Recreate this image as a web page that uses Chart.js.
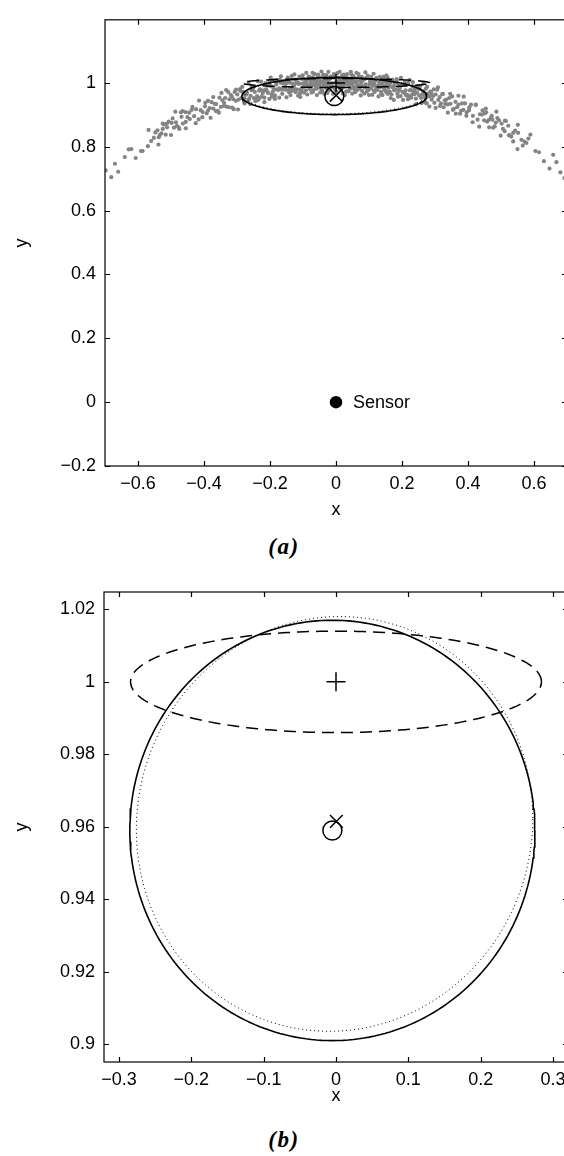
<!DOCTYPE html>
<html>
<head>
<meta charset="utf-8">
<script src="https://cdn.jsdelivr.net/npm/chart.js@4.4.0/dist/chart.umd.min.js"></script>
<style>
  body { margin: 0; width: 564px; height: 1156px; overflow: hidden; background: #fff; position: relative; }
  canvas { position: absolute; left: 0; }
  #plotA { top: 0; }
  #plotB { top: 560px; }
  .caption { position: absolute; left: 234px; width: 100px; text-align: center;
             font: bold italic 23px "Liberation Serif", "Times New Roman", serif; line-height: 26px; letter-spacing: 1.5px; }
</style>
</head>
<body>
<canvas id="plotA" width="600" height="530"></canvas>
<div class="caption" style="top:534px">(a)</div>
<canvas id="plotB" width="600" height="560"></canvas>
<div class="caption" style="top:1127px">(b)</div>
<script>
// particle cloud [x, y]
const particles = [
  [0.002,1.004],[0.005,0.989],[0.007,1.017],[0.009,0.998],[0.011,1.008],[0.013,0.981],[0.014,1.001],[0.016,1.013],[0.018,0.993],[0.019,1.024],
  [0.021,0.986],[0.023,1.000],[0.025,1.009],[0.027,0.995],[0.029,1.019],[0.031,0.974],[0.033,1.005],[0.035,0.999],[0.037,1.014],[0.039,0.990],
  [0.041,1.002],[0.043,0.982],[0.046,1.010],[0.047,1.026],[0.049,0.995],[0.052,1.006],[0.053,0.987],[0.055,1.017],[0.057,0.978],[0.059,1.001],
  [0.061,1.003],[0.063,0.990],[0.064,1.012],[0.066,0.995],[0.069,1.020],[0.071,0.983],[0.072,1.007],[0.075,0.992],[0.077,1.001],[0.079,0.975],
  [0.081,1.008],[0.083,0.989],[0.086,1.012],[0.088,0.986],[0.090,0.996],[0.092,1.015],[0.095,0.983],[0.097,1.021],[0.099,0.978],
  [0.101,0.996],[0.104,0.998],[0.106,0.983],[0.108,1.011],[0.111,0.992],[0.113,1.002],[0.115,0.975],[0.117,0.995],[0.119,1.007],
  [0.121,0.985],[0.123,1.016],[0.126,0.978],[0.128,0.992],[0.131,1.002],[0.133,0.987],[0.135,1.012],[0.137,0.966],[0.139,0.998],
  [0.142,0.988],[0.144,1.004],[0.147,0.980],[0.149,0.992],[0.152,0.972],[0.154,1.000],[0.157,1.016],[0.159,0.985],
  [0.161,0.992],[0.163,0.973],[0.166,1.003],[0.168,0.964],[0.171,0.987],[0.174,0.990],[0.176,0.977],[0.179,0.999],
  [0.181,0.979],[0.184,1.004],[0.186,0.967],[0.189,0.991],[0.191,0.976],[0.194,0.985],[0.196,0.959],[0.199,0.993],
  [0.202,0.972],[0.205,0.994],[0.208,0.968],[0.211,0.977],[0.214,0.996],[0.216,0.963],[0.219,1.001],
  [0.221,0.957],[0.224,0.977],[0.227,0.978],[0.229,0.962],[0.232,0.990],[0.235,0.970],[0.238,0.980],
  [0.242,0.951],[0.245,0.970],[0.249,0.982],[0.252,0.961],[0.255,0.991],[0.258,0.953],
  [0.262,0.965],[0.265,0.974],[0.269,0.958],[0.272,0.982],[0.275,0.936],[0.278,0.967],
  [0.283,0.958],[0.286,0.973],[0.290,0.948],[0.294,0.959],[0.298,0.938],
  [0.302,0.964],[0.306,0.979],[0.310,0.947],[0.314,0.956],[0.318,0.936],
  [0.322,0.965],[0.326,0.924],[0.330,0.946],[0.334,0.948],[0.338,0.933],
  [0.343,0.953],[0.347,0.935],[0.352,0.958],[0.357,0.919],
  [0.362,0.941],[0.367,0.924],[0.371,0.932],[0.376,0.904],
  [0.382,0.936],[0.386,0.916],[0.391,0.936],[0.396,0.908],
  [0.403,0.915],[0.409,0.932],[0.415,0.897],
  [0.423,0.931],[0.429,0.885],[0.436,0.902],
  [0.442,0.901],[0.449,0.883],[0.455,0.908],
  [0.463,0.884],[0.469,0.891],[0.476,0.860],
  [0.484,0.876],[0.494,0.883],[0.506,0.856],[0.515,0.881],[0.526,0.837],[0.537,0.844],
  [0.451,0.905],[0.458,0.879],[0.472,0.897],[0.481,0.864],[0.489,0.890],[0.502,0.873],[0.511,0.849],[0.522,0.866],[0.531,0.832],[0.543,0.851],
  [0.552,0.844],[0.571,0.816],[0.583,0.826],[0.577,0.812],[0.562,0.822],[0.550,0.793],[0.604,0.787],[0.630,0.755],[0.647,0.732],[0.668,0.752],[0.680,0.720],[0.692,0.702],
  [0.001,0.972],[0.004,1.031],[0.008,0.988],[0.011,1.035],[0.014,0.978],[0.017,1.009],[0.021,0.967],[0.024,1.026],[0.027,0.962],[0.031,1.017],[0.034,1.028],[0.038,0.974],
  [0.042,1.003],[0.045,1.035],[0.049,0.967],[0.052,1.022],[0.055,0.982],[0.058,0.971],[0.062,1.032],[0.065,0.978],[0.068,1.028],[0.072,0.991],[0.075,0.961],[0.078,1.019],
  [0.082,1.011],[0.086,0.967],[0.089,1.033],[0.093,0.972],[0.096,1.022],[0.100,0.962],[0.103,1.006],[0.107,1.019],[0.110,0.963],[0.114,1.029],[0.117,0.972],
  [0.121,1.013],[0.125,0.983],[0.129,0.958],[0.133,1.019],[0.137,0.972],[0.141,0.962],[0.145,1.020],[0.149,0.977],[0.153,1.023],[0.157,0.966],
  [0.162,0.996],[0.166,0.953],[0.171,1.011],[0.175,0.947],[0.179,1.002],[0.184,1.012],[0.188,0.957],[0.192,0.985],[0.197,1.016],
  [0.203,0.947],[0.208,1.001],[0.213,0.961],[0.218,0.949],[0.223,1.009],[0.228,0.954],[0.233,1.003],[0.238,0.965],
  [0.243,0.934],[0.249,0.991],[0.254,0.981],[0.259,0.937],[0.265,1.001],[0.270,0.939],[0.276,0.988],
  [0.283,0.926],[0.289,0.968],[0.296,0.980],[0.302,0.922],[0.309,0.986],[0.315,0.928],
  [0.324,0.966],[0.331,0.935],[0.339,0.907],[0.346,0.966],[0.354,0.916],
  [0.363,0.904],[0.371,0.960],[0.379,0.913],[0.387,0.957],[0.395,0.897],
  [0.404,0.924],[0.414,0.877],[0.424,0.932],[0.434,0.863],
  [0.444,0.914],[0.454,0.920],[0.464,0.861],[0.474,0.885],
  [0.486,0.910],[0.499,0.835],[0.512,0.882],[0.524,0.836],[0.537,0.817],[0.551,0.869],
  [0.566,0.804],[0.589,0.838],[0.615,0.783],[0.658,0.775],
  [-0.001,1.002],[-0.004,0.982],[-0.006,1.025],[-0.008,0.987],[-0.010,1.019],[-0.012,1.000],[-0.015,0.990],[-0.017,1.016],[-0.018,0.993],[-0.020,1.012],
  [-0.022,0.977],[-0.024,1.003],[-0.026,0.994],[-0.028,1.009],[-0.030,0.985],[-0.032,1.022],[-0.034,0.997],[-0.036,1.014],[-0.038,0.992],[-0.040,1.004],
  [-0.042,1.001],[-0.044,0.978],[-0.045,1.017],[-0.048,0.987],[-0.050,1.006],[-0.051,0.995],[-0.054,1.026],[-0.056,1.010],[-0.058,0.982],[-0.060,1.002],
  [-0.062,0.989],[-0.064,1.013],[-0.065,0.997],[-0.067,1.004],[-0.070,0.972],[-0.071,1.018],[-0.073,0.993],[-0.076,1.008],[-0.078,0.998],[-0.080,0.984],
  [-0.082,1.020],[-0.084,0.989],[-0.087,1.009],[-0.089,0.997],[-0.091,0.977],[-0.093,1.004],[-0.095,0.994],[-0.098,1.013],[-0.100,0.985],
  [-0.102,0.998],[-0.105,0.975],[-0.107,0.980],[-0.109,0.968],[-0.112,0.997],[-0.114,1.001],[-0.116,0.999],[-0.118,0.979],[-0.120,1.006],
  [-0.122,1.011],[-0.124,0.981],[-0.127,0.993],[-0.129,0.992],[-0.131,0.998],[-0.134,0.975],[-0.136,0.980],[-0.138,0.984],[-0.140,1.001],
  [-0.141,0.982],[-0.144,0.976],[-0.146,1.006],[-0.149,1.002],[-0.151,0.999],[-0.154,0.988],[-0.156,1.000],[-0.159,1.007],
  [-0.162,0.999],[-0.164,0.979],[-0.167,1.001],[-0.170,1.010],[-0.172,0.983],[-0.175,0.978],[-0.177,0.980],[-0.180,1.000],
  [-0.182,1.009],[-0.185,0.961],[-0.187,0.979],[-0.190,0.985],[-0.192,0.972],[-0.195,0.964],[-0.197,0.990],[-0.200,1.006],
  [-0.203,0.998],[-0.206,0.969],[-0.209,0.974],[-0.212,0.980],[-0.214,0.999],[-0.217,0.954],[-0.220,0.976],
  [-0.222,0.975],[-0.225,0.958],[-0.228,0.978],[-0.231,0.980],[-0.233,0.976],[-0.236,0.947],[-0.239,0.959],
  [-0.243,0.950],[-0.246,0.972],[-0.250,0.987],[-0.253,0.980],[-0.256,0.977],[-0.259,0.960],
  [-0.263,0.951],[-0.266,0.946],[-0.270,0.969],[-0.273,0.963],[-0.276,0.964],[-0.279,0.952],
  [-0.282,0.972],[-0.287,0.953],[-0.291,0.981],[-0.295,0.948],[-0.299,0.964],
  [-0.303,0.944],[-0.307,0.972],[-0.311,0.949],[-0.315,0.923],[-0.319,0.963],
  [-0.323,0.949],[-0.327,0.972],[-0.332,0.926],[-0.336,0.953],[-0.339,0.937],
  [-0.344,0.946],[-0.349,0.925],[-0.353,0.954],[-0.358,0.913],
  [-0.363,0.934],[-0.368,0.935],[-0.372,0.920],[-0.377,0.940],
  [-0.383,0.921],[-0.388,0.944],[-0.392,0.905],[-0.397,0.927],
  [-0.404,0.909],[-0.410,0.915],[-0.416,0.886],
  [-0.424,0.918],[-0.430,0.896],[-0.437,0.916],
  [-0.443,0.887],[-0.450,0.893],[-0.456,0.909],
  [-0.464,0.873],[-0.470,0.908],[-0.477,0.861],
  [-0.485,0.877],[-0.491,0.860],[-0.498,0.875],[-0.507,0.879],[-0.516,0.838],[-0.525,0.856],[-0.534,0.837],
  [-0.455,0.878],[-0.468,0.894],[-0.482,0.866],[-0.495,0.889],[-0.512,0.861],[-0.521,0.870],[-0.529,0.842],[-0.541,0.852],
  [-0.547,0.845],[-0.537,0.830],[-0.560,0.818],[-0.570,0.802],[-0.586,0.787],[-0.607,0.765],[-0.620,0.793],[-0.640,0.768],[-0.660,0.722],[-0.670,0.747],[-0.698,0.726],
  [-0.002,0.981],[-0.006,1.028],[-0.009,0.966],[-0.013,0.991],[-0.016,1.020],[-0.019,0.979],[-0.023,1.035],[-0.026,0.969],[-0.029,1.025],[-0.032,1.010],[-0.036,0.966],[-0.039,1.026],
  [-0.041,0.975],[-0.044,1.036],[-0.048,0.970],[-0.051,1.013],[-0.054,1.021],[-0.058,0.962],[-0.061,0.992],[-0.064,1.028],[-0.068,0.978],[-0.071,1.032],[-0.074,0.970],[-0.079,0.981],
  [-0.083,1.020],[-0.087,0.964],[-0.090,1.032],[-0.094,1.000],[-0.097,0.970],[-0.101,1.024],[-0.104,1.013],[-0.108,0.956],[-0.111,1.020],[-0.115,0.960],[-0.119,1.002],
  [-0.122,0.971],[-0.126,1.027],[-0.130,0.980],[-0.134,1.022],[-0.138,0.962],[-0.142,0.971],[-0.146,1.017],[-0.150,0.955],[-0.154,0.979],[-0.158,1.007],
  [-0.163,0.966],[-0.167,1.021],[-0.172,0.954],[-0.176,1.009],[-0.181,0.995],[-0.185,0.950],[-0.189,1.009],[-0.194,0.957],[-0.198,1.017],
  [-0.202,0.950],[-0.207,0.992],[-0.212,0.999],[-0.217,0.940],[-0.222,0.969],[-0.227,1.004],[-0.232,0.953],[-0.237,1.006],
  [-0.244,0.943],[-0.249,0.953],[-0.255,0.990],[-0.260,0.934],[-0.265,1.000],[-0.271,0.967],[-0.277,0.936],
  [-0.284,0.988],[-0.290,0.975],[-0.297,0.917],[-0.303,0.979],[-0.310,0.918],[-0.316,0.958],
  [-0.325,0.924],[-0.333,0.978],[-0.340,0.928],[-0.347,0.969],[-0.355,0.907],
  [-0.364,0.912],[-0.372,0.956],[-0.380,0.891],[-0.388,0.913],[-0.396,0.938],
  [-0.405,0.893],[-0.415,0.945],[-0.425,0.874],[-0.435,0.925],
  [-0.445,0.907],[-0.455,0.858],[-0.465,0.912],[-0.475,0.856],
  [-0.487,0.910],[-0.500,0.837],[-0.513,0.872],[-0.525,0.873],[-0.538,0.807],[-0.552,0.828],
  [-0.568,0.853],[-0.591,0.787],[-0.628,0.792],[-0.681,0.705]
];

const sensor = [0, 0];
const priorMean = [0, 1];              // '+'
const particleMean = [-0.005, 0.959];  // 'o'
const estimateMean = [0.0005, 0.9615]; // 'x'

// ellipses: [cx, cy, semi-x, semi-y, tilt]
const priorEllipse = [0, 1, 0.284, 0.014, 0];
const particleEllipse = [-0.005, 0.959, 0.28, 0.058, 0];
const estimateEllipse = [-0.002, 0.9608, 0.274, 0.0572, 0.006];

const xTicksA = [-0.6, -0.4, -0.2, 0, 0.2, 0.4, 0.6];
const yTicksA = [-0.2, 0, 0.2, 0.4, 0.6, 0.8, 1];
const xTicksB = [-0.3, -0.2, -0.1, 0, 0.1, 0.2, 0.3];
const yTicksB = [0.9, 0.92, 0.94, 0.96, 0.98, 1, 1.02];

const FONT = '"Liberation Sans", Arial, Helvetica, sans-serif';
const FONT_SIZE = 18;

function ellipsePoints([cx, cy, a, b, tilt]) {
  const pts = [];
  for (let i = 0; i <= 240; i++) {
    const t = i / 240 * 2 * Math.PI;
    const ex = a * Math.cos(t), ey = b * Math.sin(t);
    pts.push({x: cx + ex * Math.cos(tilt) - ey * Math.sin(tilt),
              y: cy + ex * Math.sin(tilt) + ey * Math.cos(tilt)});
  }
  return pts;
}

function curve(e, dash, width) {
  return {data: ellipsePoints(e), showLine: true, pointRadius: 0, borderColor: '#000',
          borderWidth: width, borderDash: dash, fill: false, order: 1};
}

function marker(p, style, r, fill) {
  return {data: [{x: p[0], y: p[1]}], pointStyle: style, pointRadius: r, borderColor: '#000',
          borderWidth: 1.5, pointBorderWidth: 1.5, backgroundColor: fill || 'rgba(0,0,0,0)', order: 0};
}

const fmt = v => String(+Number(v).toFixed(2)).replace('-', '\u2212');

function axes(xr, yr, xTicks, yTicks, yWidth, xHeight, xTitlePad) {
  const font = {family: FONT, size: FONT_SIZE};
  return {
    x: {
      type: 'linear', min: xr[0], max: xr[1],
      grid: {display: false, drawTicks: false}, border: {display: false},
      afterBuildTicks: s => { s.ticks = xTicks.map(v => ({value: v})); },
      afterFit: s => { s.height = xHeight; },
      ticks: {font, color: '#000', padding: 7, maxRotation: 0, autoSkip: false, callback: fmt},
      title: {display: true, text: 'x', font, color: '#000', padding: {top: 0, bottom: xTitlePad}}
    },
    y: {
      type: 'linear', min: yr[0], max: yr[1],
      grid: {display: false, drawTicks: false}, border: {display: false},
      afterBuildTicks: s => { s.ticks = yTicks.map(v => ({value: v})); },
      afterFit: s => { s.width = yWidth; },
      ticks: {font, color: '#000', padding: 9, autoSkip: false, callback: fmt},
      title: {display: true, text: 'y', font, color: '#000', padding: {top: 11, bottom: 0}}
    }
  };
}

// box around the plot with inward ticks on all four sides
const frameTicks = {
  id: 'frameTicks',
  afterDraw(chart) {
    const {ctx, chartArea: a, scales: {x, y}} = chart;
    const len = 5;
    ctx.save();
    ctx.strokeStyle = '#000';
    ctx.lineWidth = 1.2;
    ctx.beginPath();
    x.ticks.forEach(t => {
      const px = Math.round(x.getPixelForValue(t.value)) + 0.5;
      ctx.moveTo(px, a.bottom); ctx.lineTo(px, a.bottom - len);
      ctx.moveTo(px, a.top); ctx.lineTo(px, a.top + len);
    });
    y.ticks.forEach(t => {
      const py = Math.round(y.getPixelForValue(t.value)) + 0.5;
      ctx.moveTo(a.left, py); ctx.lineTo(a.left + len, py);
      ctx.moveTo(a.right, py); ctx.lineTo(a.right - len, py);
    });
    ctx.stroke();
    ctx.strokeRect(a.left, a.top, a.right - a.left, a.bottom - a.top);
    ctx.restore();
  }
};

const sensorLabel = {
  id: 'sensorLabel',
  afterDatasetsDraw(chart) {
    const {ctx, scales: {x, y}} = chart;
    ctx.save();
    ctx.font = FONT_SIZE + 'px ' + FONT;
    ctx.fillStyle = '#000';
    ctx.textBaseline = 'middle';
    ctx.fillText('Sensor', x.getPixelForValue(sensor[0]) + 17, y.getPixelForValue(sensor[1]) + 1);
    ctx.restore();
  }
};

const common = {
  responsive: false,
  animation: false,
  devicePixelRatio: 1,
  plugins: {legend: {display: false}, tooltip: {enabled: false}}
};

new Chart(document.getElementById('plotA'), {
  type: 'scatter',
  data: {
    datasets: [
      marker(priorMean, 'cross', 9),
      marker(estimateMean, 'crossRot', 9),
      marker(particleMean, 'circle', 9.5),
      marker(sensor, 'circle', 5.5, '#000'),
      curve(priorEllipse, [12, 7], 1.5),
      curve(particleEllipse, [], 1.6),
      curve(estimateEllipse, [1, 3], 1),
      {data: particles.map(p => ({x: p[0], y: p[1]})), pointRadius: 2.1, borderWidth: 0,
       backgroundColor: '#848484', pointStyle: 'circle', order: 5}
    ]
  },
  options: {
    ...common,
    layout: {padding: {top: 7, right: 33, bottom: 0, left: 0}},
    scales: axes([-0.7, 0.7], [-0.2, 1.198], xTicksA, yTicksA, 105, 64, 9)
  },
  plugins: [frameTicks, sensorLabel]
});

new Chart(document.getElementById('plotB'), {
  type: 'scatter',
  data: {
    datasets: [
      marker(priorMean, 'cross', 9.5),
      marker(estimateMean, 'crossRot', 9),
      marker(particleMean, 'circle', 9.5),
      curve(priorEllipse, [12, 7], 1.5),
      curve(particleEllipse, [], 1.6),
      curve(estimateEllipse, [1, 3], 1)
    ]
  },
  options: {
    ...common,
    layout: {padding: {top: 32, right: 32, bottom: 0, left: 0}},
    scales: axes([-0.3207, 0.3207], [0.8951, 1.0248], xTicksB, yTicksB, 104, 58, 13)
  },
  plugins: [frameTicks]
});
</script>
</body>
</html>
